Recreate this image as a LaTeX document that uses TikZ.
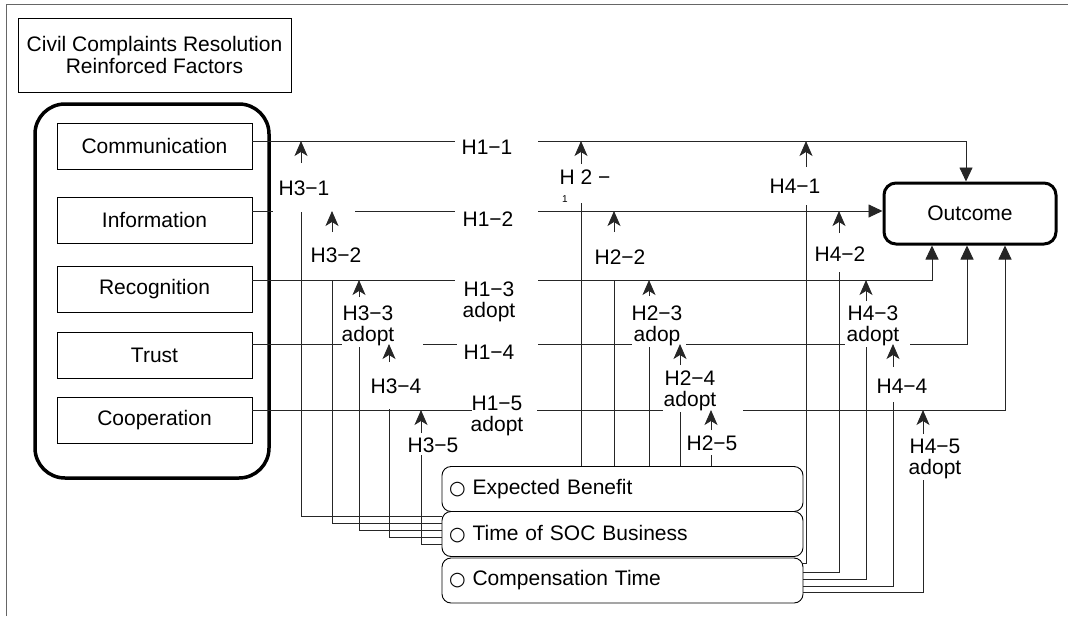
\documentclass[tikz,border=0pt]{standalone}
\usepackage{fontspec}
\setmainfont{Liberation Sans}
\newfontfamily\symfont{DejaVu Sans}
\usetikzlibrary{arrows.meta,calc}
\begin{document}
\begin{tikzpicture}[x=1pt,y=-1pt,
  every node/.style={font=\fontsize{21}{21}\selectfont},
  ln/.style={line width=0.9pt, draw=black!85},
  bigarrow/.style={-{Triangle[width=13pt,length=14pt]}},
  modarrow/.style={-{Stealth[width=13pt,length=15pt,inset=4pt]}},
  lbl/.style={inner sep=0pt, align=center},
  factor/.style={draw, line width=0.9pt, minimum width=195pt, minimum height=46pt, inner sep=0pt},
  sbox/.style={draw, line width=0.9pt, rounded corners=9pt, minimum height=45pt, text width=347pt, inner xsep=7pt, inner ysep=0pt, align=left}
]
\useasboundingbox (0,0) rectangle (1068,616);
\draw[line width=1pt, black!60] (6,616) -- (6,4) -- (1068,4);

\node[draw, line width=0.9pt, minimum width=273pt, minimum height=74pt, align=center, inner sep=0pt, font=\fontsize{21}{22}\selectfont] (title) at (154.5,55) {Civil Complaints Resolution\\Reinforced Factors};

\node[draw, line width=3.5pt, rounded corners=30pt, minimum width=234pt, minimum height=374pt] (grp) at (152,291) {};

\node[factor] (comm) at (154.5,146) {Communication};
\node[factor] (info) at (154.5,220) {Information};
\node[factor] (recog) at (154.5,289.5) {Recognition};
\node[factor] (trust) at (154.5,355.5) {Trust};
\node[factor] (coop) at (154.5,420.5) {Cooperation};

\node[draw, line width=3pt, rounded corners=12pt, minimum width=172pt, minimum height=61pt] (out) at (970,213.5) {Outcome};

\node[sbox] (eb) at (622.5,489) {{\symfont\fontsize{19}{19}\selectfont ○}\ Expected Benefit};
\node[sbox] (soc) at (622.5,534) {{\symfont\fontsize{19}{19}\selectfont ○}\ Time of SOC Business};
\node[sbox] (comp) at (622.5,580.5) {{\symfont\fontsize{19}{19}\selectfont ○}\ Compensation Time};

% line levels
\coordinate (L1) at (0,141);
\coordinate (L2) at (0,211);
\coordinate (L3) at (0,280);
\coordinate (L4) at (0,344);
\coordinate (L5) at (0,410);

% H1 lines
\draw[ln] (comm.east |- L1) -- (455,141);
\draw[ln,bigarrow] (538,141) -| ([xshift=-4pt]out.north);
\draw[ln] (info.east |- L2) -- (273,211);
\draw[ln] (355,211) -- (455,211);
\draw[ln,bigarrow] (538,211) -- (out.west |- L2);
\draw[ln] (recog.east |- L3) -- (455,280);
\draw[ln,bigarrow] (538,280) -| ([xshift=-38pt]out.south);
\draw[ln] (trust.east |- L4) -- (342,344);
\draw[ln] (423,344) -- (457,344);
\draw[ln] (538,344) -- (632,344);
\draw[ln] (686,344) -- (845,344);
\draw[ln,bigarrow] (910,344) -| ([xshift=-3pt]out.south);
\draw[ln] (coop.east |- L5) -- (472,410);
\draw[ln] (537,410) -- (663,410);
\draw[ln,bigarrow] (743,410) -| ([xshift=35pt]out.south);

% H1 labels
\node[lbl] (h11) at (487,147) {H1−1};
\node[lbl] (h12) at (488,219) {H1−2};
\node[lbl] (h13) at (489,302) {H1−3\\adopt};
\node[lbl] (h14) at (489,352) {H1−4};
\node[lbl] (h15) at (497,416) {H1−5\\adopt};

% moderator x positions
\coordinate (x31) at (301,0); \coordinate (x32) at (332,0); \coordinate (x33) at (359,0);
\coordinate (x34) at (389,0); \coordinate (x35) at (421,0);
\coordinate (x21) at (581,0); \coordinate (x22) at (614,0); \coordinate (x23) at (649,0);
\coordinate (x24) at (680,0); \coordinate (x25) at (711,0);
\coordinate (x41) at (806,0); \coordinate (x42) at (839,0); \coordinate (x43) at (866,0);
\coordinate (x44) at (893,0); \coordinate (x45) at (923,0);

% H3 arrows
\draw[ln,modarrow] ($(x31|-L1)+(0,22)$) -- (x31|-L1);
\draw[ln,modarrow] ($(x32|-L2)+(0,21)$) -- (x32|-L2);
\draw[ln,modarrow] ($(x33|-L3)+(0,17)$) -- (x33|-L3);
\draw[ln,modarrow] ($(x34|-L4)+(0,18)$) -- (x34|-L4);
\draw[ln,modarrow] ($(x35|-L5)+(0,23)$) -- (x35|-L5);
% H2 arrows
\draw[ln,modarrow] ($(x21|-L1)+(0,23)$) -- (x21|-L1);
\draw[ln,modarrow] ($(x22|-L2)+(0,21)$) -- (x22|-L2);
\draw[ln,modarrow] ($(x23|-L3)+(0,16)$) -- (x23|-L3);
\draw[ln,modarrow] ($(x24|-L4)+(0,21)$) -- (x24|-L4);
\draw[ln,modarrow] ($(x25|-L5)+(0,20)$) -- (x25|-L5);
% H4 arrows
\draw[ln,modarrow] ($(x41|-L1)+(0,26)$) -- (x41|-L1);
\draw[ln,modarrow] ($(x42|-L2)+(0,22)$) -- (x42|-L2);
\draw[ln,modarrow] ($(x43|-L3)+(0,21)$) -- (x43|-L3);
\draw[ln,modarrow] ($(x44|-L4)+(0,23)$) -- (x44|-L4);
\draw[ln,modarrow] ($(x45|-L5)+(0,24)$) -- (x45|-L5);

% moderator labels
\node[lbl] (h31) at (304,188) {H3−1};
\node[lbl] (h32) at (336,255) {H3−2};
\node[lbl] (h33) at (368,326) {H3−3\\adopt};
\node[lbl] (h34) at (396,386) {H3−4};
\node[lbl] (h35) at (433,445) {H3−5};
\node[lbl] (h21) at (585,177) {H 2 −};
\node[lbl, font=\fontsize{10}{10}\selectfont] (h21b) at (565,199) {1};
\node[lbl] (h22) at (620,257) {H2−2};
\node[lbl] (h23) at (657,326) {H2−3\\adop};
\node[lbl] (h24) at (690,391) {H2−4\\adopt};
\node[lbl] (h25) at (712,443) {H2−5};
\node[lbl] (h41) at (795,186) {H4−1};
\node[lbl] (h42) at (840,254) {H4−2};
\node[lbl] (h43) at (873,326) {H4−3\\adopt};
\node[lbl] (h44) at (902,386) {H4−4};
\node[lbl] (h45) at (935,459) {H4−5\\adopt};

% vertical start points
\coordinate (v31) at (301,212); \coordinate (v32) at (332,280); \coordinate (v33) at (359,347);
\coordinate (v34) at (389,409); \coordinate (v35) at (421,455);
\coordinate (v21) at (581,203); \coordinate (v22) at (614,280); \coordinate (v23) at (649,347);
\coordinate (v24) at (680,412); \coordinate (v25) at (711,455);
\coordinate (v41) at (806,205); \coordinate (v42) at (839,272); \coordinate (v43) at (866,347);
\coordinate (v44) at (893,402); \coordinate (v45) at (923,480);

% H3 connectors to Time of SOC Business
\draw[ln] (v31) |- ([yshift=18pt]soc.west);
\draw[ln] (v32) |- ([yshift=11pt]soc.west);
\draw[ln] (v33) |- ([yshift=4pt]soc.west);
\draw[ln] (v34) |- ([yshift=-3pt]soc.west);
\draw[ln] (v35) |- ([yshift=-10pt]soc.west);
% H2 connectors to Expected Benefit
\draw[ln] (v21) -- (v21 |- eb.north);
\draw[ln] (v22) -- (v22 |- eb.north);
\draw[ln] (v23) -- (v23 |- eb.north);
\draw[ln] (v24) -- (v24 |- eb.north);
\draw[ln] (v25) -- (v25 |- eb.north);
% H4 connectors to Compensation Time
\draw[ln] (v41) |- ([yshift=17.5pt]comp.east);
\draw[ln] (v42) |- ([yshift=8.5pt]comp.east);
\draw[ln] (v43) |- ([yshift=1.5pt]comp.east);
\draw[ln] (v44) |- ([yshift=-5.5pt]comp.east);
\draw[ln] (v45) |- ([yshift=-11.5pt]comp.east);
\end{tikzpicture}
\end{document}
